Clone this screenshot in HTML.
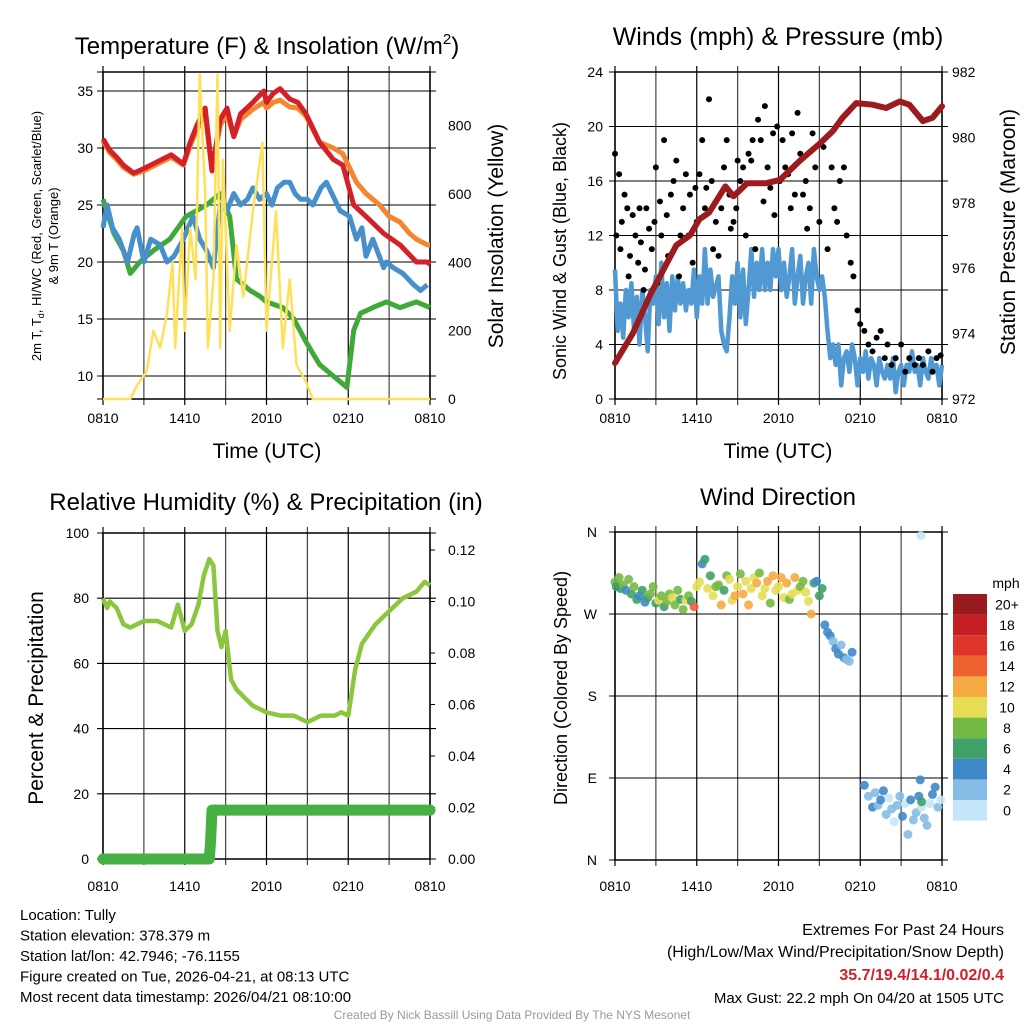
<!DOCTYPE html>
<html><head><meta charset="utf-8"><style>
html,body{margin:0;padding:0;background:#fff}
svg{display:block;font-family:"Liberation Sans",sans-serif}
</style></head><body>
<svg id="s" width="1024" height="1024" viewBox="0 0 1024 1024"></svg>
<script>
// ---------- DATA ----------
const xTickLabels = ["0810","1410","2010","0210","0810"];
// Panel 1 temperature (F) [hour, value]
const tempRedH = [0,0.5,1,1.5,2.25,3,4,5,5.9,6.4,6.9,7.5,8,8.6,9.1,9.6,10.1,11,11.8,12,12.5,13,13.7,14.3,14.9,15.9,16.9,17.6,18.4,19.3,20.6,21.8,23,23.8,24];
const tempRedV = [30.8,29.8,29.2,28.5,27.8,28.2,28.8,29.4,28.6,30.5,32,33.5,28,32.5,33.5,31,33,34,35,34,34.8,35.2,34.3,34,33,30.5,29,28.5,25,24,22.5,21.5,20,20,19.8];
const tempOrangeH = [0,0.5,1,1.5,2.25,3,4,5,5.9,6.4,6.9,7.5,8,8.6,9.1,9.6,10.1,11,11.8,12,12.5,13,13.7,14.3,14.9,15.9,16.9,17.6,18.6,19.3,20.3,21,21.8,22.5,23,23.8,24];
const tempOrangeV = [30.6,29.6,29,28.3,27.7,28,28.6,29.2,28.5,30.2,31.6,33,28,32,33,31,32.5,33.4,34,33.5,34,34.2,33.6,33.5,32.8,30.5,30,29.5,27,26,25,24,23.5,22.5,22,21.5,21.5];
const tempBlueH = [0,0.3,0.7,1.2,1.8,2.3,2.5,3,3.5,4.2,4.7,5.2,5.9,6.6,7.1,7.6,8.1,8.6,9.1,9.6,10.1,10.6,11,11.5,12,12.4,12.8,13.3,13.7,14.1,14.5,15,15.4,16,16.4,16.8,17.4,18.1,18.6,19,19.3,19.8,20.6,20.8,21.3,22,22.8,23.3,23.8];
const tempBlueV = [23,25,23,22,20,22.5,23,20,22,21.5,20,20.5,22,24,22,21,19.5,25,24.5,26,25,25.5,26.5,25.5,26,25,26.5,27,27,26,25.5,25.5,25,26.5,27,26,24.5,24,22,23,20.5,22,19.5,20,19.5,19,18,17.5,18];
const tempGreenH = [0,0.8,1.5,2,2.7,3.7,4.9,6.1,7.6,8.6,9.3,9.8,10.8,11.5,12,13.2,14,14.9,15.9,16.9,17.9,18.4,18.9,19.8,20.8,21.8,23,24];
const tempGreenV = [25.5,22.5,21,19,20,21,22,24,25,26,24,18.5,17.5,17,16.5,16,15,13,11,10,9,14,15.5,16,16.5,16,16.5,16];
const solarH = [0,2,2.5,3.2,3.7,4.2,4.7,5.1,5.3,5.8,6,6.4,6.8,7.1,7.5,7.7,8.1,8.4,8.6,8.8,9.3,9.8,10.3,11,11.7,12,12.7,13.2,13.7,14.2,14.9,15.4,24];
const solarV = [0,0,40,80,200,150,250,400,150,500,200,500,350,950,600,150,350,950,150,700,200,450,300,550,750,200,550,150,350,100,50,0,0];
const p1LeftTicks = [10,15,20,25,30,35];
const p1RightTicks = [0,200,400,600,800];
// Panel 2 wind
const windH = [0,0.2,0.4,0.6,0.8,1,1.2,1.4,1.6,1.8,2,2.2,2.4,2.6,2.8,3,3.2,3.4,3.6,3.8,4,4.2,4.4,4.6,4.8,5,5.2,5.4,5.6,5.8,6,6.2,6.4,6.6,6.8,7,7.2,7.6,7.8,8,8.2,8.4,8.6,8.8,9,9.2,9.4,9.6,9.8,10,10.2,10.4,10.6,10.8,11,11.2,11.4,11.6,11.8,12,12.2,12.4,12.6,12.8,13,13.2,13.4,13.6,13.8,14,14.2,14.4,14.6,14.8,15,15.2,15.4,15.6,15.8,16,16.2,16.4,16.6,16.8,17,17.2,17.4,17.6,17.8,18,18.2,18.4,18.6,18.8,19,19.2,19.4,19.6,19.8,20,20.2,20.4,20.6,20.8,21,21.2,21.4,21.6,21.8,22,22.2,22.4,22.6,22.8,23,23.2,23.4,23.6,23.8,24];
const windV = [9.5,5,7,4.5,8,6,8.5,5,7.5,4,8,6,3.5,8,7,9,5.5,10,6,8.5,5,9,6.5,9,7,8.5,6.5,8,7,9.5,6,9,7,11,7,9.5,7.5,9,5,4,3.5,6,9,7,10,6,9.5,5.5,8,11,7.5,10,8,11,8,10,8,11,9,11,8,10,7.5,9,11,7,9,10.5,7,9,10,7,11,9,8,9,7.5,5,3,4,2.5,4,1,3,3.5,2,4,3,1,3,2,3.5,1.5,3,2.5,1,3,2,1.5,2.5,1.5,3,0.5,2,2.5,1,2.5,2,3.5,2,2.5,1,3,2,1.5,3,2,2.5,1,2.5];
const gustH = [0,0.1,0.3,0.4,0.5,0.7,0.9,1,1.1,1.3,1.5,1.7,1.8,1.9,2.1,2.2,2.3,2.5,2.7,2.9,3,3.1,3.3,3.4,3.6,3.8,3.9,4.1,4.3,4.5,4.7,4.8,5,5.2,5.4,5.5,5.7,5.9,6,6.2,6.4,6.6,6.7,6.9,7.1,7.2,7.4,7.6,7.8,8,8.2,8.4,8.5,8.7,8.9,9,9.2,9.4,9.6,9.8,10,10.1,10.3,10.5,10.7,10.9,11,11.2,11.4,11.6,11.7,11.9,12.1,12.3,12.5,12.7,12.9,13,13.2,13.4,13.6,13.8,14,14.1,14.3,14.5,14.7,15,15.3,15.6,15.9,16.1,16.3,16.5,16.8,17,17.3,17.5,17.8,18,18.3,18.6,18.9,19.2,19.5,19.8,20,20.3,20.6,21,21.3,21.6,22,22.3,22.6,23,23.3,23.6,23.9];
const gustV = [18,12,16.5,11,13,15,14,9,10.5,13.5,12,10,14,11.5,8,9.5,14,12.5,11,13,17,8.5,14.5,12,19,13.5,10.5,15,16,17.5,9,12,14,16.5,12,15,10,15.5,13,16.5,19,14,15.5,22,16,11,13,10.5,14,17,19,15,12.5,13,14,17.5,16,17,12,18,17.5,19,11,20.5,19,14.5,21.5,17,15.5,19.5,13.5,20,16,19,17,16.5,14,19.5,15,21,18,15,16,12.5,14,19.5,17,13,18.5,11,17,14,13,16,17,12,10,9,6.5,5.5,5,4,3.5,4.5,5,3,4,2.5,3,4,2,3,2.5,3,2.5,3.5,2,3,3.2,2.5];
const presH = [0,1.3,2.6,4.5,5.5,6.2,6.9,8.1,8.7,9.7,11.1,12.1,13.6,15,16,16.7,17.7,18.9,19.9,20.9,21.6,22.6,23.3,24];
const presV = [973.1,974.0,975.2,976.7,977.0,977.5,977.7,978.5,978.2,978.6,978.6,978.7,979.3,979.8,980.2,980.6,981.05,981.0,980.9,981.1,981.0,980.5,980.6,980.95];
const p2LeftTicks = [0,4,8,12,16,20,24];
const p2RightTicks = [972,974,976,978,980,982];
// Panel 3 RH / precip
const rhH = [0,0.3,0.5,1,1.5,2,3,4,5,5.5,6,6.5,7,7.4,7.8,8.1,8.4,8.7,9,9.4,9.8,10.5,11,12,13,14,15,16,17,17.5,18,18.5,19,20,21,22,23,23.6,24];
const rhV = [80,77,79,77,72,71,73,73,71,78,70,72,78,87,92,90,70,65,70,55,52,49,47,45,44,44,42,44,44,45,44,58,66,72,76,80,82,85,84];
const precipH = [0,7.8,7.9,8.0,24];
const precipV = [0,0,0.007,0.019,0.019];
const p3LeftTicks = [0,20,40,60,80,100];
const p3RightTicks = [0,0.02,0.04,0.06,0.08,0.10,0.12];
// Panel 4 wind direction [hour, degrees, speed mph]
const dirH = [0,0.1,0.3,0.4,0.6,0.8,1,1.2,1.4,1.6,1.8,2,2.2,2.4,2.6,2.8,3,3.2,3.4,3.6,3.8,4,4.2,4.4,4.6,4.8,5,5.2,5.4,5.6,5.8,6,6.2,6.4,6.6,6.8,7,7.2,7.4,7.6,7.8,8,8.2,8.4,8.6,8.8,9,9.2,9.4,9.6,9.8,10,10.2,10.4,10.6,10.8,11,11.2,11.4,11.6,11.8,12,12.2,12.4,12.6,12.8,13,13.2,13.4,13.6,13.8,14,14.2,14.4,14.6,14.8,15,15.2,15.4,15.6,15.8,16,16.2,16.4,16.6,16.8,17,17.2,17.4,18.3,18.6,18.9,19.1,19.3,19.5,19.7,19.9,20.1,20.3,20.5,20.7,20.9,21.1,21.3,21.5,21.7,21.9,22.1,22.3,22.5,22.7,22.9,23.1,23.3,23.5,23.7,23.9,22.4,22.5,22.45];
const dirV = [305,300,310,298,302,296,308,292,300,286,290,296,283,288,292,300,282,285,290,278,284,292,288,280,296,286,275,285,290,284,278,300,305,325,330,298,312,290,300,302,280,296,312,308,285,290,300,314,292,306,280,298,310,304,315,290,298,306,282,312,296,300,310,288,304,286,292,310,296,300,306,294,284,270,304,306,290,298,258,250,246,240,232,226,236,222,220,218,228,82,70,58,74,60,66,76,50,68,56,42,60,70,48,62,28,66,44,52,70,58,46,38,62,72,80,58,66,88,64,356,242,196];
const dirS = [8,6,7,6,7,4,7,6,7,6,4,6,4,6,7,8,6,9,8,6,7,8,10,7,8,6,7,9,8,6,14,10,9,4,5,9,6,10,8,7,12,6,8,10,9,12,10,8,11,9,12,10,9,12,8,10,9,11,8,12,10,9,12,10,11,8,9,12,10,8,7,9,10,12,6,4,5,6,3,3,4,2,4,3,2,3,2,2,3,3,2,3,1,2,3,4,1,0,2,0,2,1,3,0,2,4,2,1,3,0,2,1,0,4,3,2,0,3,5,0,0,1];
const cbLabels = ["0","2","4","6","8","10","12","14","16","18","20+"];
const cbColors = ["#c5e6f8","#85bde6","#3f88c8","#3fa06a","#75b943","#e5de55","#f6aa44","#ef6230","#e0352a","#c51f24","#981b1f"];

// ---------- HELPERS ----------
const S = document.getElementById('s');
const NS = "http://www.w3.org/2000/svg";
function mk(tag, attrs, parent){ const e=document.createElementNS(NS,tag); for(const k in attrs) e.setAttribute(k,attrs[k]); (parent||S).appendChild(e); return e; }
function txt(x,y,s,size,anchor,parent,extra){ const t=mk('text',Object.assign({x:x,y:y,'font-size':size,'text-anchor':anchor||'middle',fill:'#000'},extra||{}),parent); t.textContent=s; return t; }
function lin(d0,d1,r0,r1){ return v=> r0+(v-d0)/(d1-d0)*(r1-r0); }
function path(xs,ys,fx,fy){ return xs.map((h,i)=>(i?'L':'M')+fx(h).toFixed(1)+','+fy(ys[i]).toFixed(1)).join(''); }

function panel(name,x0,x1,y0,y1){
  const g = mk('g',{});
  
  
  for(let i=0;i<=8;i++){ const x=x0+(x1-x0)*i/8; mk('line',{x1:x,x2:x,y1:y0-6,y2:y1+6,stroke:(i%2? '#444':'#000'),'stroke-width':1.2},g); }
  return g;
}
function hgrid(g,x0,x1,ys){ ys.forEach(y=>mk('line',{x1:x0-6,x2:x1+6,y1:y,y2:y,stroke:'#000','stroke-width':1.1},g)); }
function xlabels(g,x0,x1,y){ xTickLabels.forEach((l,i)=>{ const t=txt(x0+(x1-x0)*i/4,y,l,14,'middle',g);   }); }

// ---------- PANEL 1 ----------
(function(){
  const x0=103,x1=430,y0=72,y1=399;
  const fx=lin(0,24,x0,x1), fy=lin(10,35,376,91), fr=lin(0,800,399,125.7);
  const g=panel('temperature-panel',x0,x1,y0,y1);
  hgrid(g,x0,x1,p1LeftTicks.map(fy).concat([y0,y1]));
  mk('rect',{x:x0,y:y0,width:x1-x0,height:y1-y0,fill:'none',stroke:'#000','stroke-width':1.5},g);
  p1LeftTicks.forEach(v=>{const t=txt(x0-10,fy(v)+5,String(v),14,'end',g);  });
  p1RightTicks.forEach(v=>{const t=txt(x1+18,fr(v)+5,String(v),14,'start',g);  });
  const series=[[tempGreenH,tempGreenV,'#3faa3a','dewpoint-line'],[tempBlueH,tempBlueV,'#4790cb','windchill-line'],[tempOrangeH,tempOrangeV,'#f3862f','temp-9m-line'],[tempRedH,tempRedV,'#d52027','temp-2m-line']];
  series.forEach(s=>{ const p=mk('path',{d:path(s[0],s[1],fx,fy),fill:'none',stroke:s[2],'stroke-width':5,'stroke-linejoin':'round'},g);   });
  const sp=mk('path',{d:path(solarH,solarV,fx,fr),fill:'none',stroke:'#fde15a','stroke-width':2.5,'stroke-linejoin':'round'},g);
   
  xlabels(g,x0,x1,423);
  let t=txt(267,54,'Temperature (F) & Insolation (W/m',24,'middle',g);  
  const sup=mk('tspan',{dy:-10,'font-size':15},t); sup.textContent='2'; const cl=mk('tspan',{dy:10},t); cl.textContent=')';
  t=txt(267,458,'Time (UTC)',21,'middle',g);  
  t=txt(0,0,'Solar Insolation (Yellow)',21,'middle',g,{transform:'translate(503,236) rotate(-90)'});  
  t=txt(0,0,'',13,'middle',g,{transform:'translate(41,236) rotate(-90)'});
   
  const a=mk('tspan',{},t); a.textContent='2m T, T'; const b=mk('tspan',{dy:3,'font-size':9},t); b.textContent='d'; const c=mk('tspan',{dy:-3},t); c.textContent=', HI/WC (Red, Green, Scarlet/Blue)';
  t=txt(0,0,'& 9m T (Orange)',13,'middle',g,{transform:'translate(58,236) rotate(-90)'});  
})();

// ---------- PANEL 2 ----------
(function(){
  const x0=615,x1=942,y0=72,y1=399;
  const fx=lin(0,24,x0,x1), fy=lin(0,24,y1,y0), fr=lin(972,982,y1,y0);
  const g=panel('wind-pressure-panel',x0,x1,y0,y1);
  hgrid(g,x0,x1,p2LeftTicks.map(fy));
  mk('rect',{x:x0,y:y0,width:x1-x0,height:y1-y0,fill:'none',stroke:'#000','stroke-width':1.5},g);
  p2LeftTicks.forEach(v=>{const t=txt(x0-12,fy(v)+5,String(v),14,'end',g);  });
  p2RightTicks.forEach(v=>{const t=txt(x1+10,fr(v)+5,String(v),14,'start',g);  });
  const wp=mk('path',{d:path(windH,windV,fx,fy),fill:'none',stroke:'#5199d3','stroke-width':4.5,'stroke-linejoin':'round'},g);
   
  gustH.forEach((h,i)=>{ const c=mk('circle',{cx:fx(h),cy:fy(gustV[i]),r:3,fill:'#000'},g);
      });
  const pp=mk('path',{d:path(presH,presV,fx,fr),fill:'none',stroke:'#9b1b1e','stroke-width':6,'stroke-linejoin':'round','stroke-linecap':'round'},g);
   
  xlabels(g,x0,x1,423);
  let t=txt(778,45,'Winds (mph) & Pressure (mb)',25,'middle',g);  
  t=txt(778,458,'Time (UTC)',21,'middle',g);  
  t=txt(0,0,'Sonic Wind & Gust (Blue, Black)',18,'middle',g,{transform:'translate(566,251) rotate(-90)'});  
  t=txt(0,0,'Station Pressure (Maroon)',21,'middle',g,{transform:'translate(1015,232) rotate(-90)'});  
})();

// ---------- PANEL 3 ----------
(function(){
  const x0=103,x1=430,y0=533,y1=859;
  const fx=lin(0,24,x0,x1), fy=lin(0,100,y1,y0), fr=lin(0,0.12,859,550);
  const g=panel('humidity-panel',x0,x1,y0,y1);
  hgrid(g,x0,x1,p3LeftTicks.map(fy));
  mk('rect',{x:x0,y:y0,width:x1-x0,height:y1-y0,fill:'none',stroke:'#000','stroke-width':1.5},g);
  p3RightTicks.forEach(v=>{ mk('line',{x1:x1,x2:x1+5,y1:fr(v),y2:fr(v),stroke:'#000'},g); const t=txt(x1+18,fr(v)+5,v.toFixed(2),14,'start',g);  });
  p3LeftTicks.forEach(v=>{const t=txt(x0-14,fy(v)+5,String(v),14,'end',g);  });
  const rp=mk('path',{d:path(rhH,rhV,fx,fy),fill:'none',stroke:'#8cc63f','stroke-width':4.5,'stroke-linejoin':'round'},g);
   
  const pr=mk('path',{d:path(precipH,precipV,fx,fr),fill:'none',stroke:'#46b043','stroke-width':11,'stroke-linecap':'round','stroke-linejoin':'round'},g);
   
  xlabels(g,x0,x1,891);
  let t=txt(266,510,'Relative Humidity (%) & Precipitation (in)',24,'middle',g);  
  t=txt(0,0,'Percent & Precipitation',21,'middle',g,{transform:'translate(43,698) rotate(-90)'});  
})();

// ---------- PANEL 4 ----------
(function(){
  const x0=615,x1=942,y0=532,y1=860;
  const fx=lin(0,24,x0,x1), fy=lin(0,360,y1,y0);
  const g=panel('wind-direction-panel',x0,x1,y0,y1);
  const dTicks=[[360,'N'],[270,'W'],[180,'S'],[90,'E'],[0,'N']];
  hgrid(g,x0,x1,dTicks.map(d=>fy(d[0])));
  mk('rect',{x:x0,y:y0,width:x1-x0,height:y1-y0,fill:'none',stroke:'#000','stroke-width':1.5},g);
  dTicks.forEach(d=>{const t=txt(x0-18,fy(d[0])+5,d[1],14,'end',g);  });
  dirH.forEach((h,i)=>{ const idx=Math.min(10,Math.round(dirS[i]/2));
    const c=mk('circle',{cx:fx(h),cy:fy(dirV[i]),r:4.5,fill:cbColors[idx],'fill-opacity':0.9},g);
      });
  xlabels(g,x0,x1,891);
  let t=txt(778,505,'Wind Direction',24,'middle',g);  
  t=txt(0,0,'Direction (Colored By Speed)',18,'middle',g,{transform:'translate(567,688) rotate(-90)'});  
  const cb=mk('g',{});  
  const top=594, bh=20.6;
  cbColors.forEach((c,i)=>{ const r=mk('rect',{x:953,y:top+(10-i)*bh,width:34,height:bh,fill:c},cb);  
    const t=txt(1007,top+(10-i)*bh+bh/2+5,cbLabels[i],14,'middle',cb);   });
  const m=txt(1006,588,'mph',14,'middle',cb);  
})();

// ---------- FOOTER ----------
(function(){
  const lines=['Location: Tully','Station elevation: 378.379 m','Station lat/lon: 42.7946; -76.1155','Figure created on Tue, 2026-04-21, at 08:13 UTC','Most recent data timestamp: 2026/04/21 08:10:00'];
  lines.forEach((l,i)=>{ const t=txt(20,920+i*20.5,l,15,'start');   });
  let t=txt(1004,935,'Extremes For Past 24 Hours',16,'end');  
  t=txt(1004,957,'(High/Low/Max Wind/Precipitation/Snow Depth)',16,'end');  
  t=txt(1004,980,'35.7/19.4/14.1/0.02/0.4',16,'end',null,{fill:'#d0202b','font-weight':'bold'});  
  t=txt(1004,1003,'Max Gust: 22.2 mph On 04/20 at 1505 UTC',15,'end');  
  t=txt(512,1019,'Created By Nick Bassill Using Data Provided By The NYS Mesonet',12,'middle',null,{fill:'#999'});  
})();
</script>
</body></html>
